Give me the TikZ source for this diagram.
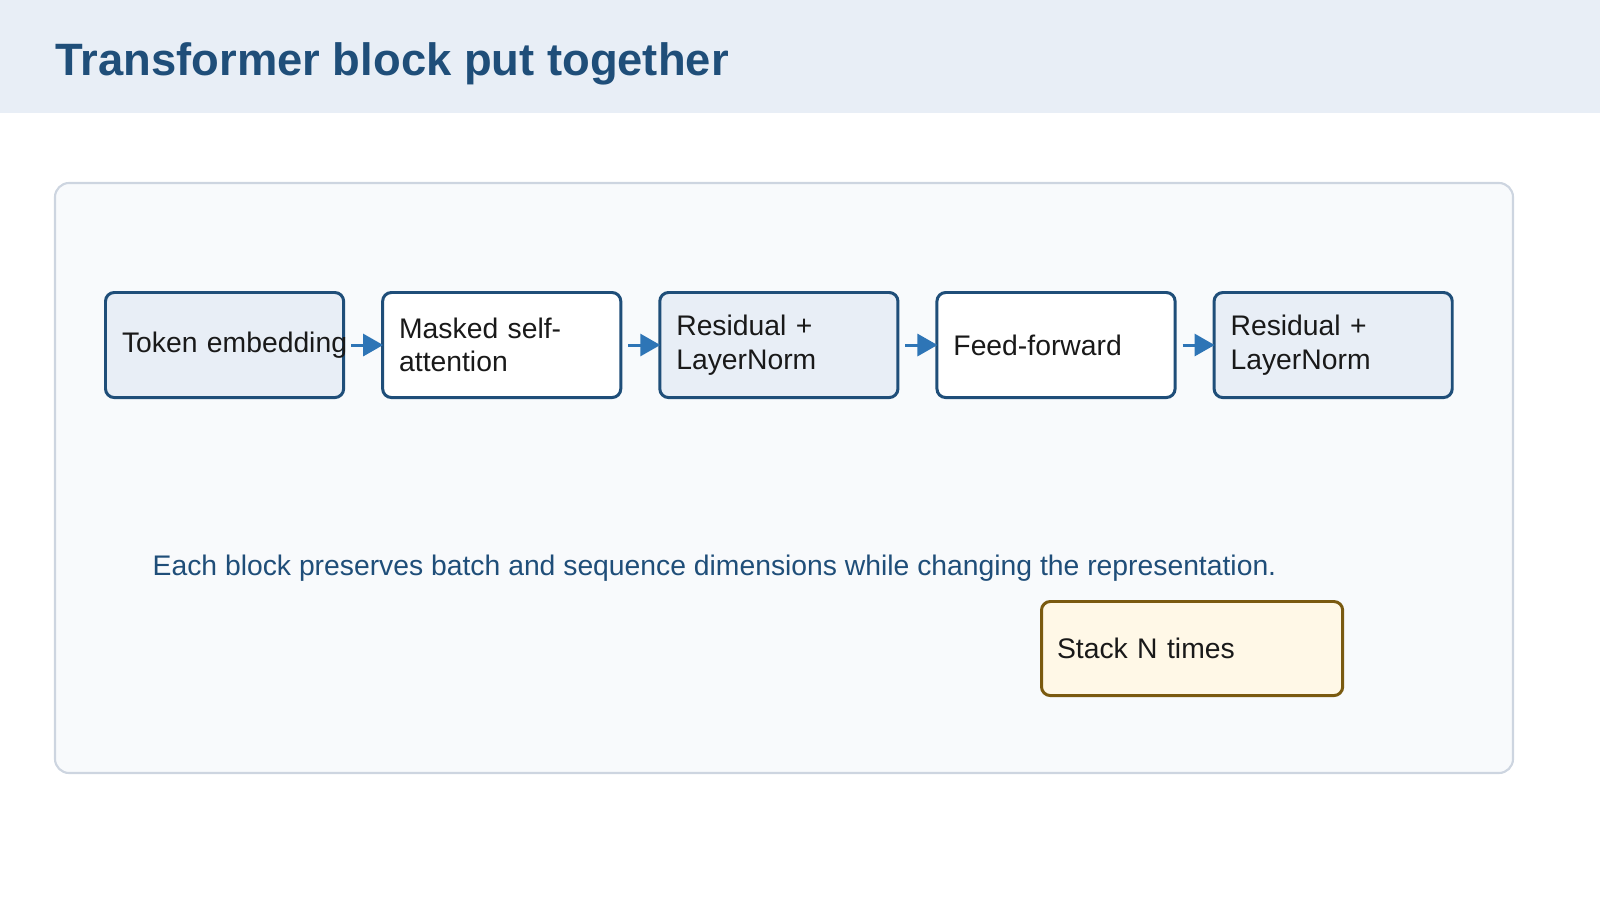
\documentclass[tikz,border=0pt]{standalone}
\usepackage{fontspec}
\setmainfont{Liberation Sans}
\usetikzlibrary{positioning,arrows.meta}
\definecolor{navy}{HTML}{1F4E79}
\definecolor{paleblue}{HTML}{E8EEF6}
\definecolor{panelbg}{HTML}{F8FAFC}
\definecolor{panelline}{HTML}{CDD5E0}
\definecolor{arrowblue}{HTML}{2E75B6}
\definecolor{cream}{HTML}{FFF8E7}
\definecolor{gold}{HTML}{7A5A10}
\tikzset{
  stage/.style={draw=navy, line width=0.85pt, rounded corners=2.5pt,
    minimum width=2.38cm, minimum height=1.05cm, text width=2.05cm,
    align=left, inner sep=0pt, font=\fontsize{8.05}{9.5}\selectfont, text=black!90},
  flow/.style={-{Triangle[length=0.2cm,width=0.22cm]}, arrowblue, line width=0.85pt, shorten >=-0.02cm}
}
\begin{document}
\begin{tikzpicture}[x=0.01cm,y=-0.01cm]
\useasboundingbox (0,0) rectangle (1600,900);
% header band
\fill[paleblue] (0,0) rectangle (1600,113);
\node[anchor=base west, inner sep=0pt, text=navy, font=\bfseries\fontsize{12.9}{15}\selectfont] (title) at (55,75) {Transformer block put together};
% panel
\draw[panelline, fill=panelbg, line width=0.6pt, rounded corners=4pt] (55,183) rectangle (1513,773);
% stages
\node[stage, fill=paleblue, anchor=north west] (embed) at (104,291) {\mbox{Token embedding}};
\node[stage, fill=white, right=0.36cm of embed] (attn) {Masked self-\\attention};
\node[stage, fill=paleblue, right=0.36cm of attn] (norm1) {Residual +\\LayerNorm};
\node[stage, fill=white, right=0.36cm of norm1] (ffn) {Feed-forward};
\node[stage, fill=paleblue, right=0.36cm of ffn] (norm2) {Residual +\\LayerNorm};
% arrows
\foreach \a/\b in {embed/attn, attn/norm1, norm1/ffn, ffn/norm2}
  \draw[flow] ([xshift=0.06cm]\a.east) -- (\b.west);
% note
\node[anchor=base west, inner sep=0pt, text=navy, font=\fontsize{8.05}{9.5}\selectfont] (note) at (152,575) {Each block preserves batch and sequence dimensions while changing the representation.};
\node[stage, draw=gold, fill=cream, anchor=north west, minimum width=3.01cm, minimum height=0.94cm, text width=2.7cm] (stack) at (1040,600) {Stack N times};
\end{tikzpicture}
\end{document}
